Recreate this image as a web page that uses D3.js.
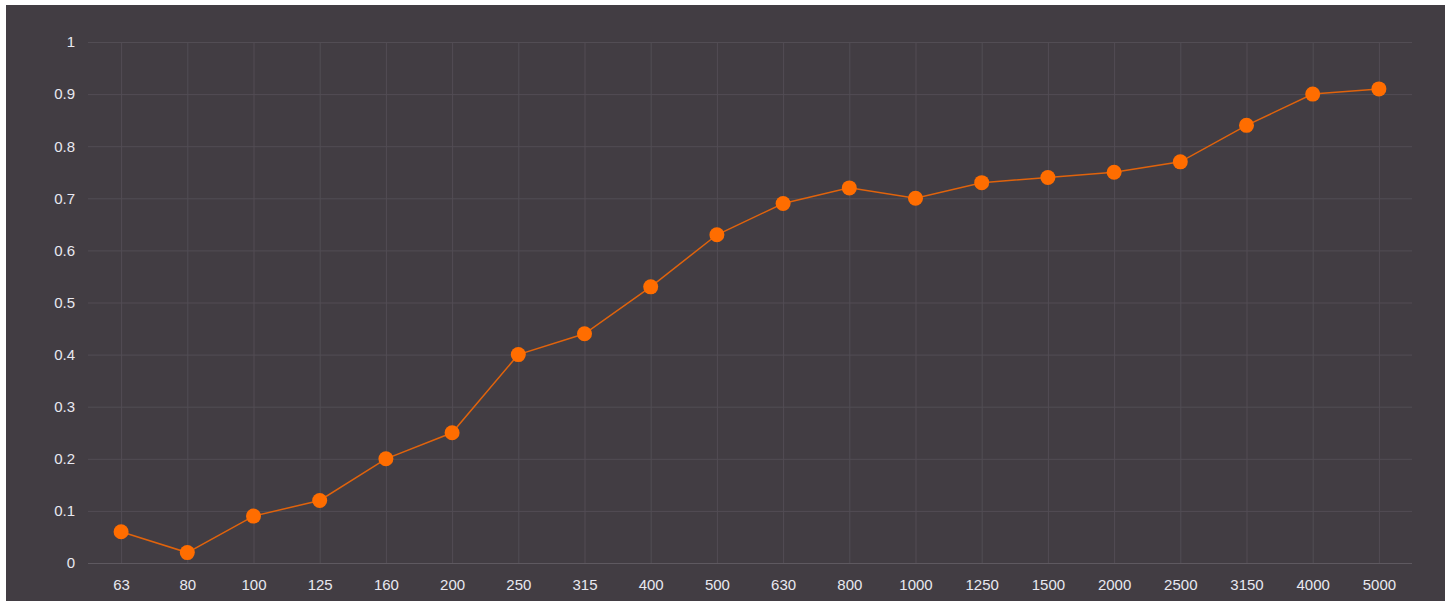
<!DOCTYPE html>
<html>
<head>
<meta charset="utf-8">
<script src="https://cdn.jsdelivr.net/npm/d3@7"></script>
<style>
  body { margin: 0; background: #fff; }
  svg { display: block; }
</style>
</head>
<body>
<div id="chart"></div>
<script>
const frequencies = ["63", "80", "100", "125", "160", "200", "250", "315", "400", "500",
  "630", "800", "1000", "1250", "1500", "2000", "2500", "3150", "4000", "5000"];
const absorption = [0.06, 0.02, 0.09, 0.12, 0.2, 0.25, 0.4, 0.44, 0.53, 0.63,
  0.69, 0.72, 0.7, 0.73, 0.74, 0.75, 0.77, 0.84, 0.9, 0.91];
const yTicks = [0, 0.1, 0.2, 0.3, 0.4, 0.5, 0.6, 0.7, 0.8, 0.9, 1];

const width = 1451;
const height = 603;
const margin = {top: 42, right: 39, bottom: 40, left: 88};

const svg = d3.select("#chart").append("svg")
  .attr("width", width)
  .attr("height", height)
  .style("font-family", "Roboto, sans-serif");

// dark panel
svg.append("rect")
  .attr("x", 6).attr("y", 5)
  .attr("width", 1439).attr("height", 596)
  .attr("fill", "#423d43");

const x = d3.scalePoint()
  .domain(frequencies)
  .range([margin.left, width - margin.right])
  .padding(0.5);

const y = d3.scaleLinear()
  .domain([0, 1])
  .range([height - margin.bottom, margin.top]);

// horizontal grid + y labels
const yAxis = svg.append("g")
  .attr("transform", `translate(${margin.left},0)`)
  .call(d3.axisLeft(y).tickValues(yTicks).tickFormat(d3.format("~g"))
    .tickSize(-(width - margin.left - margin.right)).tickPadding(13));
yAxis.select(".domain").remove();
yAxis.selectAll(".tick line")
  .attr("stroke", d => d === 0 ? "#5e5960" : "#524d54");
yAxis.selectAll(".tick text")
  .attr("fill", "#e8e8f0")
  .attr("font-size", 15);

// vertical grid + x labels
const xAxis = svg.append("g")
  .attr("transform", `translate(0,${height - margin.bottom})`)
  .call(d3.axisBottom(x).tickSize(-(height - margin.top - margin.bottom)).tickPadding(16));
xAxis.select(".domain").remove();
xAxis.selectAll(".tick line").attr("stroke", "#524d54");
xAxis.selectAll(".tick text")
  .attr("fill", "#e8e8f0")
  .attr("font-size", 15);
yAxis.raise();

const pts = frequencies.map((f, i) => ({f, v: absorption[i]}));

svg.append("path")
  .datum(pts)
  .attr("fill", "none")
  .attr("stroke", "#e0630c")
  .attr("stroke-width", 1.5)
  .attr("d", d3.line().x(d => x(d.f)).y(d => y(d.v)));

svg.append("g")
  .selectAll("circle")
  .data(pts)
  .join("circle")
  .attr("cx", d => x(d.f))
  .attr("cy", d => y(d.v))
  .attr("r", 7.5)
  .attr("fill", "#ff6d00");
</script>
</body>
</html>
